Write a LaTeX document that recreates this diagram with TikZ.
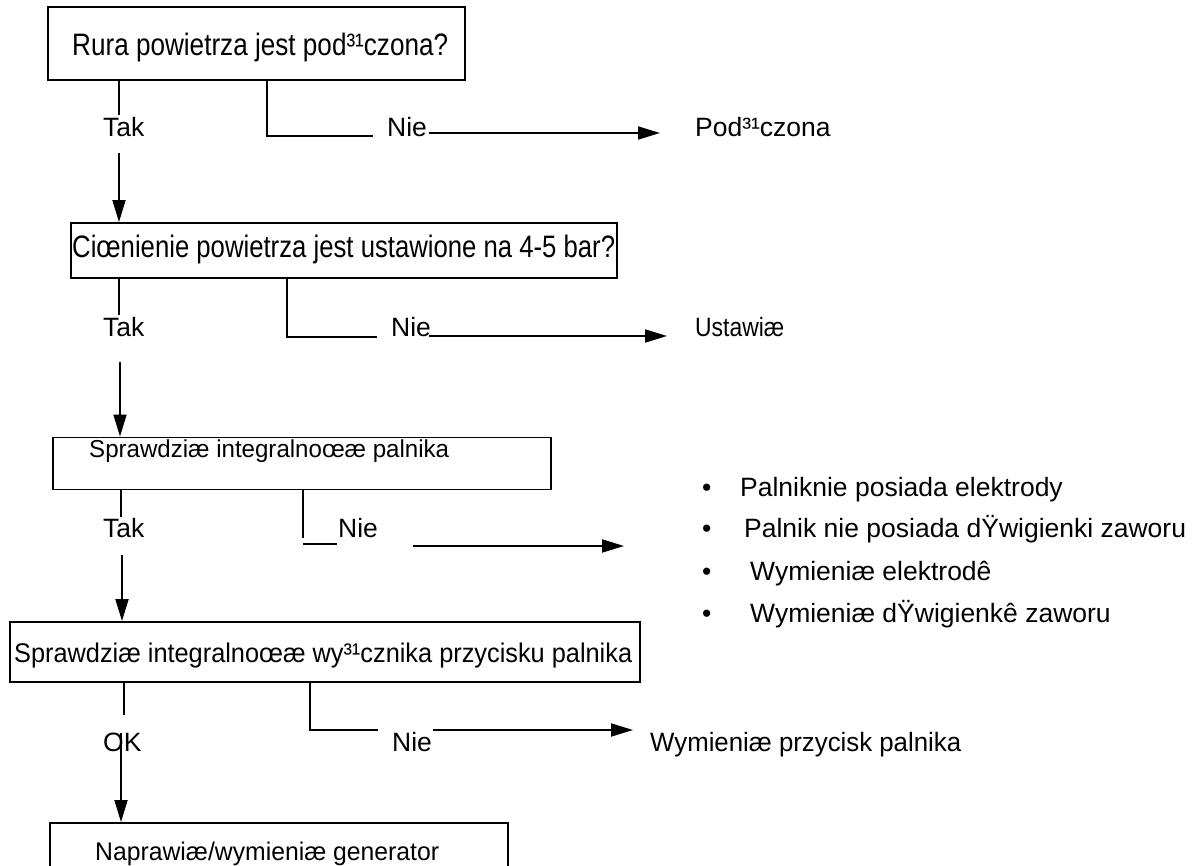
\documentclass[tikz,border=0pt]{standalone}
\usepackage{fontspec}
\setmainfont{Liberation Sans}
\usepackage{graphicx}
\usetikzlibrary{arrows.meta}
\newcommand\fitw[2]{\resizebox{#1}{\height}{#2}}
\begin{document}
\begin{tikzpicture}[x=1pt,y=-1pt,
  box/.style={draw, line width=1.9pt, inner sep=0pt},
  txt/.style={inner sep=0pt, anchor=base west, font=\fontsize{26.5}{30}\selectfont},
  conn/.style={line width=1.9pt},
  arr/.style={line width=1.9pt, -{Triangle[length=22pt,width=13pt]}}]
\useasboundingbox (0,0) rectangle (1195,866);
\clip (0,0) rectangle (1195,866);
\fill[white] (0,0) rectangle (1195,866);

% boxes
\node[box, minimum width=417pt, minimum height=73pt] (b1) at (256.5,43.5) {};
\node[box, minimum width=546pt, minimum height=55pt] (b2) at (343.75,250.5) {};
\node[box, minimum width=498pt, minimum height=52pt] (b3) at (302,463.5) {};
\node[box, minimum width=630pt, minimum height=60pt] (b4) at (325,652) {};
\node[box, minimum width=458pt, minimum height=80pt] (b5) at (279,863) {};

% box texts
\node[txt, font=\fontsize{31}{34}\selectfont] (t1) at (72,56) {\fitw{376pt}{Rura powietrza jest pod³¹czona?}};
\node[txt, font=\fontsize{31}{34}\selectfont] (t2) at (72,258) {\fitw{543pt}{Ciœnienie powietrza jest ustawione na 4-5 bar?}};
\node[txt, font=\fontsize{24.5}{28}\selectfont] (t3) at (89,457) {\fitw{360pt}{Sprawdziæ integralnoœæ palnika}};
\node[txt, font=\fontsize{27}{30}\selectfont] (t4) at (14,662) {\fitw{618pt}{Sprawdziæ integralnoœæ wy³¹cznika przycisku palnika}};
\node[txt, font=\fontsize{25.5}{28}\selectfont] (t5) at (95,860) {\fitw{344pt}{Naprawiæ/wymieniæ generator}};

% labels
\node[txt] (tak1) at (103,137) {Tak};
\node[txt] (nie1) at (387,137) {Nie};
\node[txt] (r1) at (695,137) {Pod³¹czona};
\node[txt] (tak2) at (103,337) {Tak};
\node[txt] (nie2) at (391,337) {Nie};
\node[txt] (r2) at (695,337) {\fitw{89pt}{Ustawiæ}};
\node[txt] (tak3) at (103,537) {Tak};
\node[txt] (nie3) at (338,537) {Nie};
\node[txt] (ok4) at (103,751) {OK};
\node[txt] (nie4) at (392,751) {Nie};
\node[txt] (r4) at (650,751) {\fitw{311pt}{Wymieniæ przycisk palnika}};

% bullet list
\node[txt] (d1) at (702,497) {•};
\node[txt] (l1) at (740,497) {Palniknie posiada elektrody};
\node[txt] (d2) at (702,538) {•};
\node[txt] (l2) at (744,538) {Palnik nie posiada dŸwigienki zaworu};
\node[txt] (d3) at (702,580) {•};
\node[txt] (l3) at (750,580) {Wymieniæ elektrodê};
\node[txt] (d4) at (702,622) {•};
\node[txt] (l4) at (750,622) {Wymieniæ dŸwigienkê zaworu};

% coordinates for free ends
\coordinate (k1) at (119,153);
\coordinate (k2) at (120,362);
\coordinate (k3) at (122,555);
\coordinate (k4) at (121,733);
\coordinate (n1s) at (429,133);
\coordinate (n1e) at (660,133);
\coordinate (n2s) at (429,336);
\coordinate (n2e) at (667,336);
\coordinate (n3s) at (413,546);
\coordinate (n3e) at (624,546);
\coordinate (n4s) at (433,730);
\coordinate (n4e) at (633,730);

% box 1 connectors
\draw[conn] (119,0 |- b1.south) -- (119,115);
\draw[arr] (k1) -- (k1 |- b2.north);
\draw[conn] (267,0 |- b1.south) |- (373,136);
\draw[arr] (n1s) -- (n1e);

% box 2 connectors
\draw[conn] (119,0 |- b2.south) -- (119,315);
\draw[arr] (k2) -- (k2 |- b3.north);
\draw[conn] (287,0 |- b2.south) |- (377,337);
\draw[arr] (n2s) -- (n2e);

% box 3 connectors
\draw[conn] (121,0 |- b3.south) -- (121,517);
\draw[arr] (k3) -- (k3 |- b4.north);
\draw[conn] (303,0 |- b3.south) -- (303,538);
\draw[conn] (303,544) -- (337,544);
\draw[arr] (n3s) -- (n3e);

% box 4 connectors
\draw[conn] (124,0 |- b4.south) -- (124,715);
\draw[arr] (k4) -- (k4 |- b5.north);
\draw[conn] (310,0 |- b4.south) |- (378,730);
\draw[arr] (n4s) -- (n4e);
\end{tikzpicture}
\end{document}
